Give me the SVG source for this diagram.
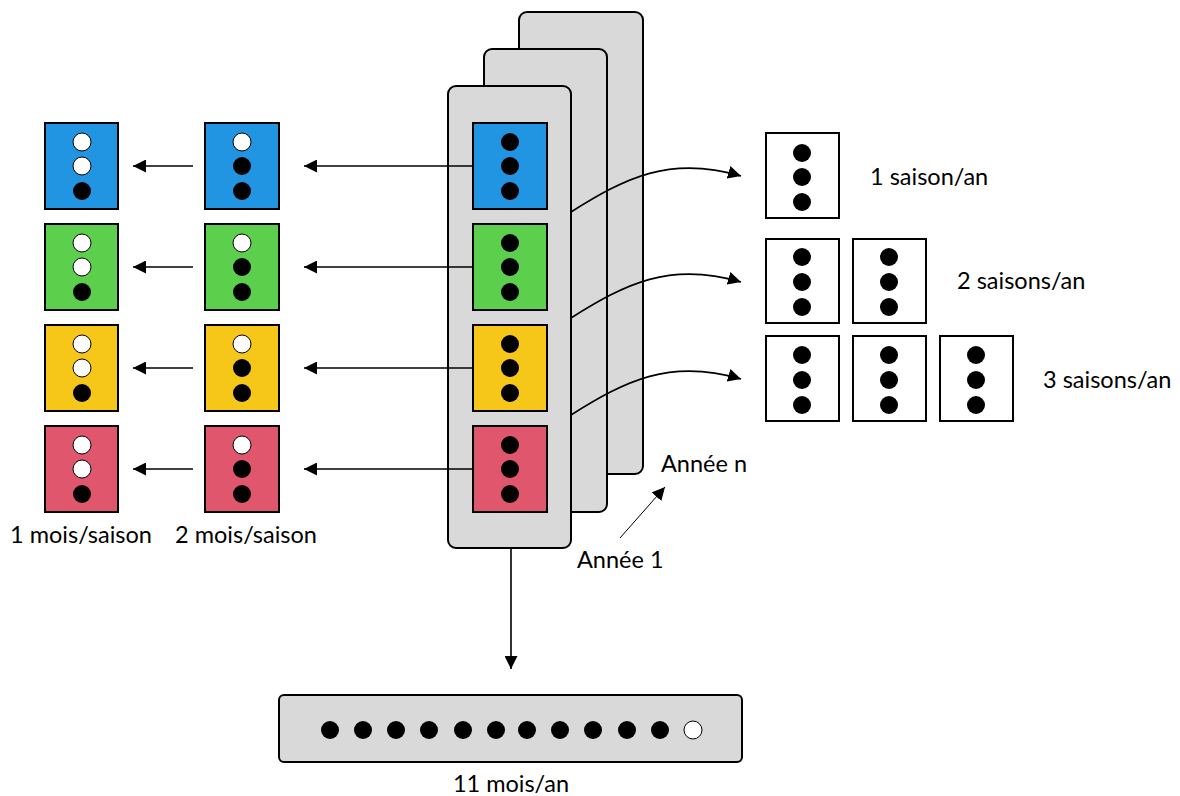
<svg xmlns="http://www.w3.org/2000/svg" width="1180" height="796" viewBox="0 0 1180 796">
<defs>
<style>
.panel{fill:#d9d9d9;stroke:#000;stroke-width:2}
.box{stroke:#000;stroke-width:2}
.blue{fill:#2194e2}.green{fill:#5ccf4d}.yellow{fill:#f6c619}.red{fill:#e0566c}.white{fill:#fff}
.b{fill:#000}
.w{fill:#fff;stroke:#000;stroke-width:1}
.con{fill:none;stroke:#000;stroke-width:1.6}
.thin{fill:none;stroke:#000;stroke-width:1}
text{font-family:Lato,"Liberation Sans",sans-serif;font-size:23.5px;fill:#000}
</style>
<marker id="ah2" viewBox="0 0 10 10" refX="10" refY="5" markerWidth="13" markerHeight="13" markerUnits="userSpaceOnUse" orient="auto"><path d="M0,0L10,5L0,10z" fill="#000"/></marker>
</defs>
<rect width="1180" height="796" fill="#fff"/>

<g id="year-n"><rect class="panel" x="519" y="12" width="124" height="462" rx="8"/></g>
<g id="year-2"><rect class="panel" x="484" y="49" width="123" height="463" rx="8"/></g>
<g id="year-1">
<rect class="panel" x="448" y="86" width="123" height="462" rx="8"/>
<rect class="box blue" x="473" y="123" width="74" height="86"/>
<circle class="b" cx="510" cy="142" r="9"/><circle class="b" cx="510" cy="166" r="9"/><circle class="b" cx="510" cy="191" r="9"/>
<rect class="box green" x="473" y="224" width="74" height="86"/>
<circle class="b" cx="510" cy="243" r="9"/><circle class="b" cx="510" cy="267" r="9"/><circle class="b" cx="510" cy="292" r="9"/>
<rect class="box yellow" x="473" y="325" width="74" height="86"/>
<circle class="b" cx="510" cy="344" r="9"/><circle class="b" cx="510" cy="368" r="9"/><circle class="b" cx="510" cy="393" r="9"/>
<rect class="box red" x="473" y="426" width="74" height="86"/>
<circle class="b" cx="510" cy="445" r="9"/><circle class="b" cx="510" cy="469" r="9"/><circle class="b" cx="510" cy="494" r="9"/>
</g>

<g id="col2">
<rect class="box blue" x="205" y="123" width="74" height="86"/>
<circle class="w" cx="242" cy="142" r="9"/><circle class="b" cx="242" cy="166" r="9"/><circle class="b" cx="242" cy="191" r="9"/>
<rect class="box green" x="205" y="224" width="74" height="86"/>
<circle class="w" cx="242" cy="243" r="9"/><circle class="b" cx="242" cy="267" r="9"/><circle class="b" cx="242" cy="292" r="9"/>
<rect class="box yellow" x="205" y="325" width="74" height="86"/>
<circle class="w" cx="242" cy="344" r="9"/><circle class="b" cx="242" cy="368" r="9"/><circle class="b" cx="242" cy="393" r="9"/>
<rect class="box red" x="205" y="426" width="74" height="86"/>
<circle class="w" cx="242" cy="445" r="9"/><circle class="b" cx="242" cy="469" r="9"/><circle class="b" cx="242" cy="494" r="9"/>
<text x="246" y="543" text-anchor="middle">2 mois/saison</text>
</g>

<g id="col1">
<rect class="box blue" x="45" y="123" width="73" height="86"/>
<circle class="w" cx="82" cy="142" r="9"/><circle class="w" cx="82" cy="166" r="9"/><circle class="b" cx="82" cy="191" r="9"/>
<rect class="box green" x="45" y="224" width="73" height="86"/>
<circle class="w" cx="82" cy="243" r="9"/><circle class="w" cx="82" cy="267" r="9"/><circle class="b" cx="82" cy="292" r="9"/>
<rect class="box yellow" x="45" y="325" width="73" height="86"/>
<circle class="w" cx="82" cy="344" r="9"/><circle class="w" cx="82" cy="368" r="9"/><circle class="b" cx="82" cy="393" r="9"/>
<rect class="box red" x="45" y="426" width="73" height="86"/>
<circle class="w" cx="82" cy="445" r="9"/><circle class="w" cx="82" cy="469" r="9"/><circle class="b" cx="82" cy="494" r="9"/>
<text x="81" y="543" text-anchor="middle">1 mois/saison</text>
</g>

<g id="season1">
<rect class="box white" x="766" y="133" width="73" height="85"/>
<circle class="b" cx="802" cy="153" r="9"/><circle class="b" cx="802" cy="177" r="9"/><circle class="b" cx="802" cy="202" r="9"/>
<text x="870" y="185">1 saison/an</text>
</g>
<g id="season2">
<rect class="box white" x="766" y="239" width="73" height="84"/>
<circle class="b" cx="802" cy="257" r="9"/><circle class="b" cx="802" cy="282" r="9"/><circle class="b" cx="802" cy="307" r="9"/>
<rect class="box white" x="853" y="239" width="73" height="84"/>
<circle class="b" cx="889" cy="257" r="9"/><circle class="b" cx="889" cy="282" r="9"/><circle class="b" cx="889" cy="307" r="9"/>
<text x="957" y="289">2 saisons/an</text>
</g>
<g id="season3">
<rect class="box white" x="766" y="336" width="73" height="85"/>
<circle class="b" cx="802" cy="355" r="9"/><circle class="b" cx="802" cy="380" r="9"/><circle class="b" cx="802" cy="405" r="9"/>
<rect class="box white" x="853" y="336" width="73" height="85"/>
<circle class="b" cx="889" cy="355" r="9"/><circle class="b" cx="889" cy="380" r="9"/><circle class="b" cx="889" cy="405" r="9"/>
<rect class="box white" x="940" y="336" width="73" height="85"/>
<circle class="b" cx="976" cy="355" r="9"/><circle class="b" cx="976" cy="380" r="9"/><circle class="b" cx="976" cy="405" r="9"/>
<text x="1043" y="388">3 saisons/an</text>
</g>

<g id="year-bar">
<rect class="panel" x="279" y="695" width="463" height="67" rx="5"/>
<circle class="b" cx="330" cy="730" r="9"/><circle class="b" cx="363" cy="730" r="9"/><circle class="b" cx="396" cy="730" r="9"/><circle class="b" cx="429" cy="730" r="9"/><circle class="b" cx="463" cy="730" r="9"/><circle class="b" cx="496" cy="730" r="9"/><circle class="b" cx="527" cy="730" r="9"/><circle class="b" cx="560" cy="730" r="9"/><circle class="b" cx="593" cy="730" r="9"/><circle class="b" cx="627" cy="730" r="9"/><circle class="b" cx="660" cy="730" r="9"/><circle class="w" cx="693" cy="730" r="9"/>
<text x="511" y="792" text-anchor="middle">11 mois/an</text>
</g>

<g id="labels">
<text x="577" y="568">Année 1</text>
<text x="661" y="472">Année n</text>
</g>

<g id="connectors">
<path class="con" d="M473,166H304" marker-end="url(#ah2)"/>
<path class="con" d="M473,267H304" marker-end="url(#ah2)"/>
<path class="con" d="M473,368H304" marker-end="url(#ah2)"/>
<path class="con" d="M473,469H304" marker-end="url(#ah2)"/>
<path class="con" d="M193,166H133" marker-end="url(#ah2)"/>
<path class="con" d="M193,267H133" marker-end="url(#ah2)"/>
<path class="con" d="M193,368H133" marker-end="url(#ah2)"/>
<path class="con" d="M193,469H133" marker-end="url(#ah2)"/>
<path class="con" d="M571,212C625,178 670,155 741,176" marker-end="url(#ah2)"/>
<path class="con" d="M571,318C625,284 670,261 741,282" marker-end="url(#ah2)"/>
<path class="con" d="M571,415C625,381 670,358 741,379" marker-end="url(#ah2)"/>
<path class="con" d="M511,548V669" marker-end="url(#ah2)"/>
<path class="thin" d="M620,538L665,487" marker-end="url(#ah2)"/>
</g>
</svg>
